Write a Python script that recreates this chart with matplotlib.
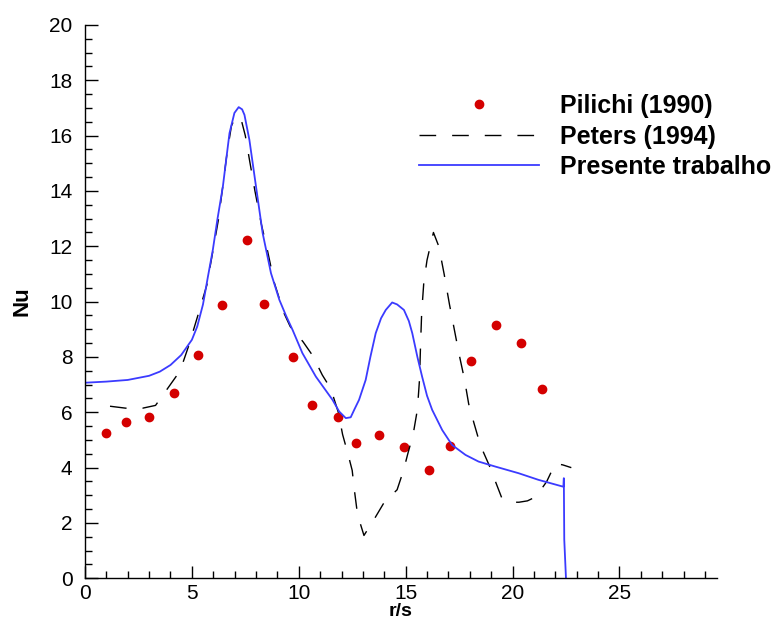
import matplotlib
matplotlib.use("Agg")
import matplotlib.pyplot as plt
from matplotlib.ticker import MultipleLocator

plt.rcParams["font.family"] = ["Liberation Sans", "DejaVu Sans"]

# Pilichi (1990) - experimental points
pilichi_x = [0.96, 1.94, 3.0, 4.15, 5.28, 6.42, 7.58, 8.36, 9.71, 10.61, 11.83,
             12.67, 13.75, 14.92, 16.08, 17.08, 18.06, 19.22, 20.4, 21.37]
pilichi_y = [5.24, 5.66, 5.82, 6.68, 8.06, 9.87, 12.21, 9.92, 7.99, 6.26, 5.82,
             4.88, 5.18, 4.74, 3.93, 4.8, 7.85, 9.16, 8.5, 6.84]

# Peters (1994)
peters_x = [1.17, 1.9, 2.7, 3.3, 3.9, 4.45, 4.85, 5.3, 5.7, 6.0, 6.25, 6.45, 6.65,
            6.85, 7.05, 7.3, 7.5, 7.7, 7.95, 8.25, 8.55, 8.85, 9.3, 9.6, 10.2,
            10.65, 11.1, 11.5, 11.85, 12.05, 12.3, 12.5, 12.6, 12.75, 13.05, 13.5,
            14.0, 14.6, 14.9, 15.1, 15.35, 15.55, 15.65, 15.7, 15.75, 15.85, 16.0,
            16.3, 16.55, 16.8, 17.05, 17.3, 17.5, 17.75, 17.95, 18.2, 18.5, 18.9,
            19.2, 19.5, 19.9, 20.3, 20.7, 21.1, 21.6, 22.0, 22.35, 22.75]
peters_y = [6.22, 6.15, 6.15, 6.25, 6.9, 7.5, 8.4, 9.55, 10.6, 11.9, 13.0, 14.2, 15.4,
            16.35, 16.7, 16.6, 16.0, 15.1, 14.0, 12.8, 11.8, 10.7, 9.6, 9.1, 8.55,
            8.05, 7.35, 6.85, 6.0, 5.2, 4.5, 3.9, 3.2, 2.3, 1.55, 2.1,
            2.75, 3.2, 3.9, 4.5, 5.2, 6.1, 7.2, 8.5, 9.6, 10.7, 11.5,
            12.5, 12.0, 11.0, 9.9, 8.9, 8.1, 7.2, 6.3, 5.6, 4.8, 4.1,
            3.5, 2.9, 2.75, 2.75, 2.8, 2.95, 3.5, 4.15, 4.1, 4.0]

# Presente trabalho
present_x = [0.0, 1.0, 2.0, 3.0, 3.5, 4.0, 4.5, 5.0, 5.25, 5.52, 5.75, 5.98, 6.2,
             6.45, 6.6, 6.76, 6.99, 7.19, 7.35, 7.46, 7.69, 8.0, 8.31, 8.7, 9.09,
             9.4, 9.71, 10.17, 10.8, 11.58, 11.89, 12.2, 12.43, 12.6, 12.82, 13.13,
             13.35, 13.6, 13.85, 14.07, 14.37, 14.6, 14.92, 15.15, 15.31, 15.55,
             15.77, 16.0, 16.24, 16.71, 17.17, 17.8, 18.41, 19.19, 20.28, 21.21,
             22.38, 22.4, 22.42, 22.5]
present_y = [7.07, 7.11, 7.17, 7.32, 7.47, 7.71, 8.07, 8.62, 9.1, 9.9, 10.9, 11.87, 13.0,
             14.16, 15.1, 16.09, 16.82, 17.03, 16.95, 16.75, 15.85, 14.16, 12.48, 11.03, 10.07,
             9.5, 8.98, 8.14, 7.29, 6.45, 6.03, 5.79, 5.82, 6.1, 6.45, 7.17,
             8.0, 8.86, 9.4, 9.7, 9.97, 9.9, 9.7, 9.3, 8.86, 8.0,
             7.29, 6.6, 6.09, 5.36, 4.82, 4.46, 4.22, 4.04, 3.8, 3.56,
             3.31, 3.62, 1.4, 0.0]

fig = plt.figure(figsize=(7.79, 6.24), dpi=100)
ax = fig.add_axes([0.1091, 0.0732, 0.8109, 0.8868])

ax.plot(pilichi_x, pilichi_y, linestyle="none", marker="o", markersize=6,
        color="#d40000", label="Pilichi (1990)")
ax.plot(peters_x, peters_y, color="black", linewidth=1.0, dashes=(12, 11.5),
        label="Peters (1994)")
ax.plot(present_x, present_y, color="#3b3bff", linewidth=1.3,
        label="Presente trabalho")

ax.set_xlim(0, 29.55)
ax.set_ylim(0, 20)
ax.xaxis.set_major_locator(MultipleLocator(5))
ax.xaxis.set_minor_locator(MultipleLocator(1))
ax.yaxis.set_major_locator(MultipleLocator(2))
ax.yaxis.set_minor_locator(MultipleLocator(0.5))

for side in ("top", "right"):
    ax.spines[side].set_visible(False)
for side in ("left", "bottom"):
    ax.spines[side].set_linewidth(1.0)

ax.tick_params(which="both", direction="in", width=1.0, labelsize=15)
ax.tick_params(which="major", length=9)
ax.tick_params(which="minor", length=5)
ax.tick_params(axis="y", which="major", pad=9)
ax.tick_params(axis="x", which="major", pad=4)

# the label sits at the very bottom edge, as in the original
ax.set_xlabel("r/s", fontsize=14, fontweight="bold", labelpad=0)
ax.set_ylabel("Nu", fontsize=16, fontweight="bold", labelpad=12)

fig.legend(loc="center left", bbox_to_anchor=(0.538, 0.781), frameon=False,
           numpoints=1, borderpad=0, borderaxespad=0, handlelength=4.8,
           handletextpad=0.84, labelspacing=0.26,
           prop={"weight": "bold", "size": 18})

fig.savefig("out.png", dpi=100)
plt.close(fig)
